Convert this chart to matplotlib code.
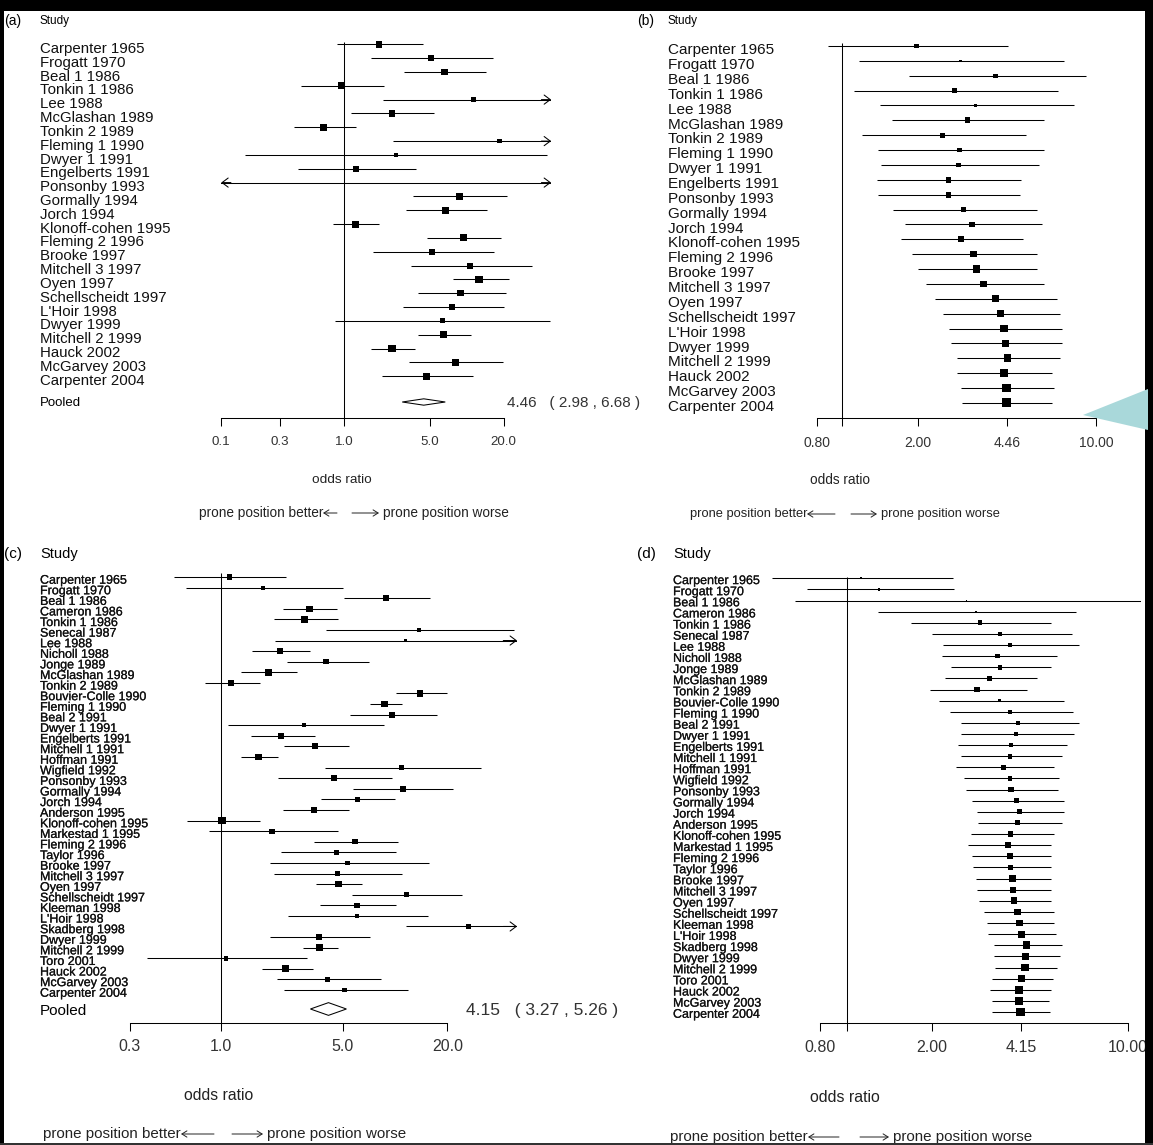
import numpy as np
import matplotlib
matplotlib.use("Agg")
import matplotlib.pyplot as plt
from matplotlib import transforms
from matplotlib import patheffects
from matplotlib.patches import Rectangle, Polygon, FancyArrowPatch
from matplotlib.ticker import NullLocator

plt.rcParams["font.family"] = ["Liberation Sans", "DejaVu Sans"]

W, H = 1153, 1145
nan = np.nan

# ---- panels (a) and (b): 25 studies ----
studies_25 = ["Carpenter 1965", "Frogatt 1970", "Beal 1 1986", "Tonkin 1 1986", "Lee 1988",
              "McGlashan 1989", "Tonkin 2 1989", "Fleming 1 1990", "Dwyer 1 1991", "Engelberts 1991",
              "Ponsonby 1993", "Gormally 1994", "Jorch 1994", "Klonoff-cohen 1995", "Fleming 2 1996",
              "Brooke 1997", "Mitchell 3 1997", "Oyen 1997", "Schellscheidt 1997", "L'Hoir 1998",
              "Dwyer 1999", "Mitchell 2 1999", "Hauck 2002", "McGarvey 2003", "Carpenter 2004"]

# (a) individual studies
a_lo = [0.87, 1.65, 3.10, 0.45, 2.07, 1.15, 0.39, 2.50, 0.156, 0.42, 0.05, 3.68, 3.21, 0.81, 4.76,
        1.72, 3.49, 7.74, 4.00, 3.03, 0.85, 4.00, 1.65, 3.41, 2.04]
a_est = [1.93, 5.10, 6.60, 0.95, 11.3, 2.46, 0.68, 18.4, 2.64, 1.25, nan, 8.70, 6.73, 1.23, 9.40,
         5.21, 10.7, 12.6, 8.89, 7.58, 6.33, 6.41, 2.46, 8.12, 4.69]
a_hi = [4.44, 16.4, 14.2, 2.10, 60.0, 5.39, 1.25, 60.0, 45.4, 3.87, 60.0, 21.1, 14.6, 1.91, 19.1,
        16.8, 33.7, 22.2, 20.7, 20.0, 48.0, 10.8, 3.81, 19.7, 11.2]
a_w = [6.5, 6, 6.5, 7, 4.5, 6.5, 7, 4.5, 3.5, 6, 0, 6.5, 7, 7, 7, 6, 6, 7.5, 6.5, 6.5, 5, 7, 7.5, 6.5, 7]
a_pool = [4.46, 2.98, 6.68]

# (b) cumulative
b_lo = [0.88, 1.17, 1.84, 1.12, 1.42, 1.57, 1.20, 1.39, 1.43, 1.38, 1.39, 1.59, 1.78, 1.71, 1.89,
        2.00, 2.15, 2.32, 2.50, 2.63, 2.70, 2.84, 2.84, 2.95, 2.98]
b_est = [1.97, 2.93, 4.03, 2.78, 3.36, 3.12, 2.49, 2.90, 2.87, 2.63, 2.63, 3.02, 3.26, 2.95, 3.29,
         3.39, 3.61, 4.01, 4.20, 4.34, 4.41, 4.49, 4.34, 4.44, 4.46]
b_hi = [4.52, 7.50, 9.10, 7.06, 8.16, 6.24, 5.31, 6.24, 5.96, 5.07, 5.04, 5.85, 6.12, 5.16, 5.85,
        5.85, 6.24, 7.01, 7.20, 7.32, 7.32, 7.20, 6.72, 6.81, 6.68]
b_w = [4.4, 2.5, 4.4, 4.4, 3.6, 5.8, 4.7, 4.7, 4.7, 5.8, 5.8, 5.0, 5.8, 6.2, 6.5, 7.3, 6.5, 7.0, 7.0,
       7.3, 7.3, 7.7, 8.4, 8.8, 9.1]

# ---- panels (c) and (d): 40 studies ----
studies_40 = ["Carpenter 1965", "Frogatt 1970", "Beal 1 1986", "Cameron 1986", "Tonkin 1 1986",
              "Senecal 1987", "Lee 1988", "Nicholl 1988", "Jonge 1989", "McGlashan 1989",
              "Tonkin 2 1989", "Bouvier-Colle 1990", "Fleming 1 1990", "Beal 2 1991", "Dwyer 1 1991",
              "Engelberts 1991", "Mitchell 1 1991", "Hoffman 1991", "Wigfield 1992", "Ponsonby 1993",
              "Gormally 1994", "Jorch 1994", "Anderson 1995", "Klonoff-cohen 1995", "Markestad 1 1995",
              "Fleming 2 1996", "Taylor 1996", "Brooke 1997", "Mitchell 3 1997", "Oyen 1997",
              "Schellscheidt 1997", "Kleeman 1998", "L'Hoir 1998", "Skadberg 1998", "Dwyer 1999",
              "Mitchell 2 1999", "Toro 2001", "Hauck 2002", "McGarvey 2003", "Carpenter 2004"]

c_lo = [0.54, 0.63, 5.09, 2.29, 2.03, 4.03, 2.06, 1.52, 2.39, 1.31, 0.81, 10.1, 7.14, 5.51, 1.10,
        1.50, 2.32, 1.31, 3.97, 2.14, 5.75, 3.78, 2.27, 0.64, 0.86, 3.41, 2.22, 1.91, 2.03, 3.53,
        5.70, 3.71, 2.43, 11.5, 1.91, 2.96, 0.376, 1.73, 2.10, 2.31]
c_est = [1.12, 1.75, 8.85, 3.23, 3.03, 13.7, 11.5, 2.19, 4.03, 1.87, 1.14, 13.9, 8.72, 9.61, 3.00,
         2.22, 3.48, 1.64, 10.9, 4.46, 11.1, 6.10, 3.44, 1.02, 1.97, 5.90, 4.60, 5.35, 4.69, 4.73,
         11.6, 6.07, 6.04, 26.3, 3.67, 3.67, 1.07, 2.35, 4.11, 5.14]
c_hi = [2.36, 5.02, 15.9, 4.62, 4.71, 48.3, 80.0, 3.23, 7.07, 2.75, 1.67, 20.0, 11.0, 17.5, 8.60,
        3.46, 5.43, 2.12, 31.1, 9.61, 21.6, 9.95, 5.43, 1.69, 4.71, 10.4, 10.1, 15.7, 11.0, 6.50,
        24.3, 10.1, 15.5, 80.0, 7.17, 4.71, 3.14, 3.40, 8.30, 11.9]
c_w = [5.5, 4, 5.5, 6.3, 6.7, 4.4, 3.7, 6, 5.5, 6.7, 6.3, 6.7, 6.3, 6, 4, 6, 6, 6.7, 4.8, 6,
       5.5, 5.5, 6, 7.8, 5.2, 5.2, 5.2, 4.4, 5.5, 6.7, 4.8, 5.5, 4.4, 5.2, 6, 6.7, 4.8, 6.7, 5.5, 4.8]
c_pool = [4.15, 3.27, 5.26]

d_lo = [0.54, 0.72, 0.65, 1.29, 1.69, 2.00, 2.20, 2.18, 2.34, 2.22, 1.97, 2.12, 2.32, 2.54, 2.54,
        2.48, 2.54, 2.43, 2.60, 2.64, 2.78, 2.90, 2.93, 2.76, 2.69, 2.78, 2.80, 2.87, 2.90, 2.95,
        3.08, 3.14, 3.18, 3.33, 3.33, 3.37, 3.27, 3.23, 3.27, 3.27]
d_est = [1.12, 1.30, 2.66, 2.87, 2.97, 3.50, 3.81, 3.43, 3.50, 3.20, 2.90, 3.48, 3.80, 4.05, 3.99,
         3.83, 3.80, 3.61, 3.80, 3.83, 4.01, 4.10, 4.05, 3.81, 3.74, 3.80, 3.81, 3.87, 3.89, 3.92,
         4.03, 4.10, 4.16, 4.35, 4.32, 4.30, 4.17, 4.10, 4.10, 4.15]
d_hi = [2.37, 2.40, 11.5, 6.54, 5.30, 6.29, 6.67, 5.58, 5.30, 4.73, 4.35, 5.92, 6.34, 6.67, 6.42,
        6.04, 5.80, 5.46, 5.69, 5.62, 5.92, 5.92, 5.80, 5.46, 5.30, 5.33, 5.30, 5.33, 5.33, 5.30,
        5.44, 5.44, 5.53, 5.80, 5.74, 5.58, 5.38, 5.30, 5.22, 5.26]
d_w = [1.8, 2.2, 1.5, 2.2, 4.7, 4.7, 4, 4.4, 4.7, 5.1, 5.5, 3.6, 4.4, 4, 4.4, 4.7, 4.7, 4.7, 4.7, 5.5,
       4.7, 4.7, 5.1, 5.5, 5.5, 6.2, 5.8, 6.6, 6.2, 6.6, 6.6, 6.9, 6.9, 7.7, 7.3, 7.7, 7.7, 8, 8, 8.8]

ticks_a = [0.1, 0.3, 1.0, 5.0, 20.0]
ticks_b = [0.8, 2.0, 4.46, 10.0]
ticks_c = [0.3, 1.0, 5.0, 20.0]
ticks_d = [0.8, 2.0, 4.15, 10.0]

fig = plt.figure(figsize=(W / 100, H / 100), dpi=100)
fig.patch.set_facecolor("white")
NARROW = ["Liberation Sans Narrow", "Liberation Sans"]
HEAVY = [patheffects.withStroke(linewidth=0.15, foreground="#111111")]


def ftext(px, py, s, **kw):
    return fig.text(px / W, 1 - py / H, s, **kw)


def make_axes(x1, ppd, xlim, first, step, ylim):
    # x1: pixel of OR=1, ppd: pixels per decade, first/step: pixel row layout
    L, R = xlim
    left = x1 + ppd * np.log10(L)
    right = x1 + ppd * np.log10(R)
    top = first + step * ylim[0]
    bottom = first + step * ylim[1]
    ax = fig.add_axes([left / W, 1 - bottom / H, (right - left) / W, (bottom - top) / H])
    ax.set_xscale("log")
    ax.set_xlim(L, R)
    ax.set_ylim(ylim[1], ylim[0])
    ax.patch.set_alpha(0)
    for s in ["top", "left", "right"]:
        ax.spines[s].set_visible(False)
    ax.set_yticks([])
    return ax


def forest(ax, lo, est, hi, w, arrows):
    rows = np.arange(len(lo))
    L, R = ax.get_xlim()
    ax.hlines(rows, lo, hi, color="black", lw=0.75)
    ax.scatter(est, rows, marker="s", s=(np.array(w) * 0.72) ** 2, color="black",
               linewidths=0, zorder=3)
    if arrows:
        style = "->,head_length=0.4,head_width=0.3"
        for i in rows:
            if hi[i] > R:
                ax.annotate("", xy=(R, i), xytext=(R / 1.2, i), annotation_clip=False,
                            arrowprops=dict(arrowstyle=style, lw=0.75, color="black",
                                            shrinkA=0, shrinkB=0, mutation_scale=11))
            if lo[i] < L:
                ax.annotate("", xy=(L, i), xytext=(L * 1.2, i), annotation_clip=False,
                            arrowprops=dict(arrowstyle=style, lw=0.75, color="black",
                                            shrinkA=0, shrinkB=0, mutation_scale=11))


def axis(ax, ticks, labels, y, fs, pad, tl, vtop, vbottom):
    ax.vlines(1.0, vtop, vbottom, color="black", lw=0.75)
    ax.spines["bottom"].set_position(("data", y))
    ax.spines["bottom"].set_bounds(ticks[0], ticks[-1])
    ax.spines["bottom"].set_linewidth(0.75)
    ax.set_xticks(ticks)
    ax.set_xticklabels(labels)
    ax.xaxis.set_minor_locator(NullLocator())
    ax.tick_params(axis="x", direction="out", length=tl, width=0.75, pad=pad,
                   labelsize=fs, labelcolor="#333333")


def study_labels(ax, names, xpx, off, fs, heavy=False):
    tr = transforms.blended_transform_factory(fig.transFigure, ax.transData)
    for i, name in enumerate(names):
        t = ax.text(xpx / W, i + off, name, transform=tr, ha="left", va="center",
                    fontsize=fs, color="#111111")
        if heavy:
            t.set_path_effects(HEAVY)


def pooled(ax, p, y, h):
    est, lo, hi = p
    ax.fill([lo, est, hi, est], [y, y - h, y, y + h], facecolor="white",
            edgecolor="black", lw=0.75, zorder=3)


def direction(xl, xr, py, fs, la, ra):
    # "prone position better <-   -> prone position worse"
    ftext(xl, py, "prone position better", ha="right", va="center", fontsize=fs, color="#222222")
    ftext(xr, py, "prone position worse", ha="left", va="center", fontsize=fs, color="#222222")
    yy = 1 - py / H
    for tail, head in [(xl + la, xl), (xr - 4 - ra, xr - 4)]:
        fig.add_artist(FancyArrowPatch(
            (tail / W, yy), (head / W, yy), transform=fig.transFigure,
            arrowstyle="->,head_length=0.4,head_width=0.25", mutation_scale=9,
            lw=0.7, color="#222222", shrinkA=0, shrinkB=0))


# ---------------- panel (a) ----------------
a_first, a_step = 44.3, 13.83
a_axis = (418 - a_first) / a_step
axA = make_axes(344.0, 122.8, (0.1, 48.6), a_first, a_step, (-1.2, a_axis + 0.4))
forest(axA, a_lo, a_est, a_hi, a_w, True)
a_pool_y = (402 - a_first) / a_step
pooled(axA, a_pool, a_pool_y, 0.23)
axis(axA, ticks_a, ["0.1", "0.3", "1.0", "5.0", "20.0"], a_axis, 9.6, 7.5, 5.5, -0.2, a_axis)
study_labels(axA, studies_25, 40, 0.33, 10.8)
ftext(4, 21, "(a)", fontsize=10, va="center")
ftext(40, 21, "Study", fontsize=8.5, va="center", family=NARROW)
ftext(40, 403, "Pooled", fontsize=9.5, va="center")
ftext(507, 403, "%.2f   ( %.2f , %.2f )" % tuple(a_pool), fontsize=11, va="center",
      color="#333333")
ftext(342, 480, "odds ratio", fontsize=9.7, ha="center", va="center", color="#222222")
direction(323, 383, 513, 9.8, 14, 27)

# ---------------- panel (b) ----------------
b_first, b_step = 46.0, 14.87
b_axis = (418 - b_first) / b_step
axB = make_axes(841.7, 254.4, (0.7, 15.0), b_first, b_step, (-1.2, b_axis + 0.7))
forest(axB, b_lo, b_est, b_hi, b_w, False)
axis(axB, ticks_b, ["0.80", "2.00", "4.46", "10.00"], b_axis, 10, 7.6, 5.5, -0.2,
     b_axis + 7.7 / b_step)
study_labels(axB, studies_25, 668, 0.28, 11)
ftext(637, 21, "(b)", fontsize=10, va="center")
ftext(668, 21, "Study", fontsize=8.5, va="center", family=NARROW)
ftext(840, 480, "odds ratio", fontsize=9.8, ha="center", va="center", color="#222222")
direction(807, 881, 514, 9.3, 28, 26)

# ---------------- panel (c) ----------------
c_first, c_step = 577.0, 10.59
c_axis = (1022.7 - c_first) / c_step
axC = make_axes(220.8, 174.2, (0.28, 50.2), c_first, c_step, (-1.5, c_axis + 0.6))
forest(axC, c_lo, c_est, c_hi, c_w, True)
c_pool_y = (1009 - c_first) / c_step
pooled(axC, c_pool, c_pool_y, 0.6)
axis(axC, ticks_c, ["0.3", "1.0", "5.0", "20.0"], c_axis, 11.5, 6.2, 5.8, -0.35, c_axis)
study_labels(axC, studies_40, 40, 0.35, 9, heavy=True)
ftext(4, 554, "(c)", fontsize=11, va="center")
ftext(40, 554, "Study", fontsize=10.5, va="center", family=NARROW)
ftext(40, 1011, "Pooled", fontsize=11, va="center")
ftext(466, 1011, "%.2f   ( %.2f , %.2f )" % tuple(c_pool), fontsize=12.5, va="center",
      color="#333333")
ftext(219, 1096, "odds ratio", fontsize=11.3, ha="center", va="center", color="#222222")
direction(181, 267, 1134, 10.9, 33, 31)

# ---------------- panel (d) ----------------
d_first, d_step = 578.3, 11.12
d_axis = (1023 - d_first) / d_step
axD = make_axes(847.3, 280.8, (0.5, 11.1), d_first, d_step, (-1.5, d_axis + 0.8))
forest(axD, d_lo, d_est, d_hi, d_w, False)
axis(axD, ticks_d, ["0.80", "2.00", "4.15", "10.00"], d_axis, 11.5, 6.8, 5.8, -0.1,
     d_axis + 8 / d_step)
study_labels(axD, studies_40, 673, 0.25, 9, heavy=True)
ftext(637, 554, "(d)", fontsize=11, va="center")
ftext(673, 554, "Study", fontsize=10.5, va="center", family=NARROW)
ftext(845, 1097, "odds ratio", fontsize=11.4, ha="center", va="center", color="#222222")
direction(808, 893, 1137, 10.9, 31, 29)

# ---------------- frame and callout ----------------
def rect(x, y, w, h, c):
    fig.add_artist(Rectangle((x / W, 1 - (y + h) / H), w / W, h / H, transform=fig.transFigure,
                             facecolor=c, edgecolor="none", zorder=20))


rect(0, 0, W, 11, "black")
rect(0, 0, 4, H, "black")
rect(1145, 0, 8, H, "black")
rect(0, 1143, W, 2, "#333333")

tri = [(1083, 415), (1148, 389), (1148, 430)]
fig.add_artist(Polygon([(x / W, 1 - y / H) for x, y in tri], closed=True, transform=fig.transFigure,
                       facecolor="#a9d8da", edgecolor="none", zorder=21))

fig.savefig("out.png", dpi=100)
